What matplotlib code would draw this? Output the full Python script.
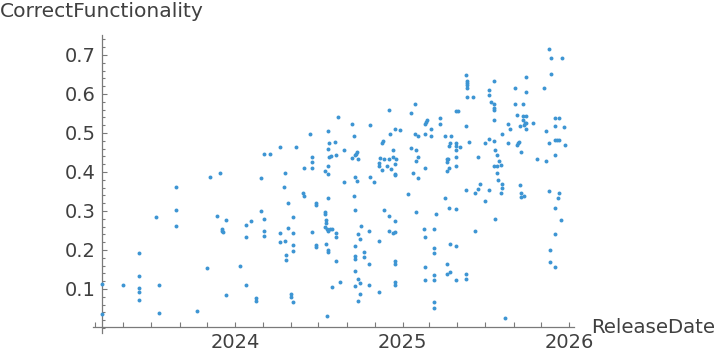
import matplotlib
matplotlib.use("Agg")
import matplotlib.pyplot as plt
import matplotlib.dates as mdates
from matplotlib.ticker import MultipleLocator, FixedLocator
import pandas as pd

# Release date (decimal year) and correct-functionality score
release_year = [
    2023.200, 2023.200, 2023.328, 2023.423, 2023.423, 2023.423, 2023.423, 2023.423,
    2023.523, 2023.543, 2023.543, 2023.643, 2023.643, 2023.643, 2023.769, 2023.829,
    2023.847, 2023.889, 2023.910, 2023.919, 2023.922, 2023.926, 2023.943, 2023.943,
    2024.026, 2024.062, 2024.062, 2024.062, 2024.092, 2024.122, 2024.122, 2024.152,
    2024.152, 2024.170, 2024.170, 2024.170, 2024.170, 2024.206, 2024.266, 2024.266,
    2024.266, 2024.290, 2024.296, 2024.296, 2024.302, 2024.302, 2024.314, 2024.314,
    2024.332, 2024.332, 2024.344, 2024.344, 2024.344, 2024.344, 2024.344, 2024.362,
    2024.404, 2024.410, 2024.410, 2024.446, 2024.457, 2024.457, 2024.457, 2024.457,
    2024.481, 2024.481, 2024.481, 2024.481, 2024.535, 2024.535, 2024.535, 2024.541,
    2024.541, 2024.535, 2024.541, 2024.547, 2024.547, 2024.553, 2024.553, 2024.553,
    2024.553, 2024.553, 2024.553, 2024.553, 2024.553, 2024.559, 2024.559, 2024.565,
    2024.571, 2024.577, 2024.577, 2024.595, 2024.601, 2024.601, 2024.601, 2024.601,
    2024.613, 2024.625, 2024.649, 2024.649, 2024.697, 2024.697, 2024.709, 2024.709,
    2024.715, 2024.715, 2024.715, 2024.715, 2024.715, 2024.715, 2024.715, 2024.715,
    2024.721, 2024.727, 2024.727, 2024.733, 2024.733, 2024.733, 2024.733, 2024.745,
    2024.745, 2024.745, 2024.751, 2024.769, 2024.769, 2024.799, 2024.799, 2024.799,
    2024.805, 2024.805, 2024.829, 2024.859, 2024.859, 2024.859, 2024.859, 2024.865,
    2024.877, 2024.883, 2024.877, 2024.889, 2024.889, 2024.907, 2024.919, 2024.919,
    2024.919, 2024.919, 2024.925, 2024.931, 2024.943, 2024.943, 2024.943, 2024.955,
    2024.955, 2024.955, 2024.955, 2024.955, 2024.955, 2024.955, 2024.955, 2024.955,
    2024.955, 2024.960, 2024.984, 2025.032, 2025.050, 2025.050, 2025.062, 2025.074,
    2025.074, 2025.080, 2025.080, 2025.080, 2025.092, 2025.092, 2025.092, 2025.134,
    2025.140, 2025.134, 2025.134, 2025.128, 2025.134, 2025.134, 2025.134, 2025.146,
    2025.170, 2025.170, 2025.188, 2025.188, 2025.188, 2025.188, 2025.188, 2025.188,
    2025.188, 2025.200, 2025.224, 2025.224, 2025.254, 2025.254, 2025.266, 2025.266,
    2025.266, 2025.266, 2025.266, 2025.272, 2025.278, 2025.278, 2025.278, 2025.284,
    2025.284, 2025.284, 2025.290, 2025.320, 2025.332, 2025.320, 2025.320, 2025.320,
    2025.320, 2025.320, 2025.320, 2025.320, 2025.320, 2025.344, 2025.380, 2025.386,
    2025.386, 2025.386, 2025.386, 2025.386, 2025.380, 2025.380, 2025.380, 2025.380,
    2025.398, 2025.422, 2025.434, 2025.434, 2025.452, 2025.452, 2025.463, 2025.493,
    2025.493, 2025.517, 2025.517, 2025.517, 2025.517, 2025.529, 2025.547, 2025.547,
    2025.547, 2025.547, 2025.547, 2025.547, 2025.547, 2025.553, 2025.553, 2025.565,
    2025.565, 2025.565, 2025.571, 2025.577, 2025.589, 2025.595, 2025.595, 2025.595,
    2025.589, 2025.613, 2025.631, 2025.631, 2025.643, 2025.673, 2025.673, 2025.685,
    2025.685, 2025.691, 2025.697, 2025.703, 2025.703, 2025.709, 2025.709, 2025.709,
    2025.721, 2025.721, 2025.721, 2025.727, 2025.727, 2025.733, 2025.739, 2025.739,
    2025.739, 2025.739, 2025.739, 2025.781, 2025.805, 2025.847, 2025.859, 2025.859,
    2025.877, 2025.877, 2025.877, 2025.883, 2025.883, 2025.889, 2025.889, 2025.913,
    2025.913, 2025.913, 2025.913, 2025.913, 2025.913, 2025.913, 2025.925, 2025.931,
    2025.937, 2025.937, 2025.937, 2025.949, 2025.955, 2025.966, 2025.972,
]
correct_functionality = [
    0.113, 0.037, 0.110, 0.193, 0.134, 0.103, 0.092, 0.073,
    0.285, 0.110, 0.039, 0.362, 0.303, 0.262, 0.044, 0.155,
    0.388, 0.288, 0.398, 0.254, 0.249, 0.246, 0.278, 0.085,
    0.160, 0.265, 0.232, 0.111, 0.275, 0.078, 0.070, 0.385,
    0.301, 0.447, 0.280, 0.249, 0.237, 0.447, 0.465, 0.244,
    0.221, 0.362, 0.398, 0.224, 0.188, 0.175, 0.321, 0.257,
    0.088, 0.080, 0.285, 0.244, 0.214, 0.198, 0.067, 0.465,
    0.347, 0.411, 0.339, 0.498, 0.439, 0.426, 0.411, 0.247,
    0.321, 0.314, 0.214, 0.208, 0.403, 0.298, 0.293, 0.278,
    0.270, 0.260, 0.216, 0.032, 0.255, 0.506, 0.460, 0.416,
    0.396, 0.332, 0.249, 0.201, 0.196, 0.475, 0.439, 0.255,
    0.442, 0.255, 0.106, 0.478, 0.444, 0.244, 0.234, 0.173,
    0.542, 0.119, 0.457, 0.373, 0.524, 0.437, 0.493, 0.339,
    0.444, 0.388, 0.303, 0.211, 0.185, 0.178, 0.147, 0.108,
    0.447, 0.452, 0.378, 0.432, 0.242, 0.126, 0.070, 0.229,
    0.116, 0.088, 0.262, 0.196, 0.183, 0.249, 0.165, 0.111,
    0.521, 0.388, 0.373, 0.424, 0.416, 0.224, 0.093, 0.437,
    0.475, 0.480, 0.406, 0.434, 0.303, 0.416, 0.560, 0.434,
    0.288, 0.249, 0.496, 0.408, 0.457, 0.439, 0.244, 0.511,
    0.421, 0.396, 0.391, 0.273, 0.247, 0.173, 0.165, 0.119,
    0.111, 0.434, 0.508, 0.344, 0.552, 0.462, 0.398, 0.575,
    0.498, 0.457, 0.429, 0.298, 0.491, 0.439, 0.385, 0.524,
    0.529, 0.498, 0.411, 0.255, 0.232, 0.157, 0.124, 0.532,
    0.511, 0.493, 0.255, 0.206, 0.191, 0.137, 0.124, 0.067,
    0.052, 0.293, 0.539, 0.524, 0.493, 0.332, 0.434, 0.426,
    0.403, 0.165, 0.139, 0.432, 0.467, 0.411, 0.308, 0.475,
    0.216, 0.144, 0.493, 0.555, 0.557, 0.475, 0.467, 0.457,
    0.439, 0.416, 0.306, 0.211, 0.124, 0.465, 0.649, 0.634,
    0.629, 0.624, 0.616, 0.591, 0.519, 0.355, 0.139, 0.126,
    0.478, 0.593, 0.347, 0.249, 0.439, 0.357, 0.370, 0.475,
    0.326, 0.611, 0.596, 0.485, 0.355, 0.580, 0.634, 0.573,
    0.565, 0.560, 0.532, 0.480, 0.414, 0.457, 0.280, 0.444,
    0.414, 0.398, 0.380, 0.429, 0.419, 0.496, 0.370, 0.360,
    0.347, 0.026, 0.524, 0.475, 0.511, 0.616, 0.573, 0.547,
    0.470, 0.475, 0.478, 0.519, 0.367, 0.452, 0.347, 0.337,
    0.573, 0.544, 0.532, 0.339, 0.521, 0.526, 0.644, 0.606,
    0.544, 0.526, 0.511, 0.526, 0.434, 0.616, 0.506, 0.429,
    0.714, 0.475, 0.352, 0.201, 0.170, 0.691, 0.652, 0.539,
    0.519, 0.483, 0.444, 0.308, 0.242, 0.157, 0.483, 0.334,
    0.537, 0.483, 0.347, 0.278, 0.693, 0.514, 0.470,
]
y_ticks = [0.1, 0.2, 0.3, 0.4, 0.5, 0.6, 0.7]


def to_date(t):
    year = int(t)
    start = pd.Timestamp(year=year, month=1, day=1)
    length = (pd.Timestamp(year=year + 1, month=1, day=1) - start).days
    return start + pd.Timedelta(days=(t - year) * length)


dates = [to_date(t) for t in release_year]

text_color = "#404040"
axis_color = "#7a7a7a"

fig = plt.figure(figsize=(7.2, 3.58), dpi=100)
ax = fig.add_axes([93 / 720, 25 / 358, 481 / 720, 298 / 358])

ax.scatter(dates, correct_functionality, s=8, color="#3d95d3", linewidths=0, zorder=3)

# x limits: 2024-01-01 sits at 235.3 px, 2026-01-01 at 569.3 px
px_per_day = 334 / 731
d2024 = mdates.date2num(pd.Timestamp("2024-01-01"))
d2026 = mdates.date2num(pd.Timestamp("2026-01-01"))
ax.set_xlim(d2024 - 142.3 / px_per_day, d2026 + 4.7 / px_per_day)
ax.set_ylim(-0.0128, 0.751)

for side in ["top", "right"]:
    ax.spines[side].set_visible(False)
ax.spines["left"].set_position(("data", mdates.date2num(to_date(2023.202))))
ax.spines["bottom"].set_position(("data", 0.0026))
for side in ["left", "bottom"]:
    ax.spines[side].set_color(axis_color)
    ax.spines[side].set_linewidth(0.9)

ax.xaxis.set_major_locator(mdates.YearLocator())
ax.xaxis.set_major_formatter(mdates.DateFormatter("%Y"))
ax.xaxis.set_minor_locator(mdates.MonthLocator(bymonth=[3, 5, 7, 9, 11]))
ax.yaxis.set_major_locator(FixedLocator(y_ticks))
ax.yaxis.set_minor_locator(MultipleLocator(0.02))

ax.tick_params(axis="x", which="both", direction="in", length=3.4, width=0.8,
               color=axis_color, labelsize=14, labelcolor=text_color, pad=4.5)
ax.tick_params(axis="y", which="major", direction="in", length=3.6, width=0.8,
               color=axis_color, labelsize=14, labelcolor=text_color, pad=5)
ax.tick_params(axis="y", which="minor", direction="in", length=2.2, width=0.8,
               color=axis_color)

fig.text(0, 1 - 17.3 / 358, "CorrectFunctionality", fontsize=14.6,
         color=text_color, ha="left", va="baseline")
fig.text(591.5 / 720, 1 - 332.7 / 358, "ReleaseDate", fontsize=14.2,
         color=text_color, ha="left", va="baseline")

fig.savefig("out.png", dpi=100)
